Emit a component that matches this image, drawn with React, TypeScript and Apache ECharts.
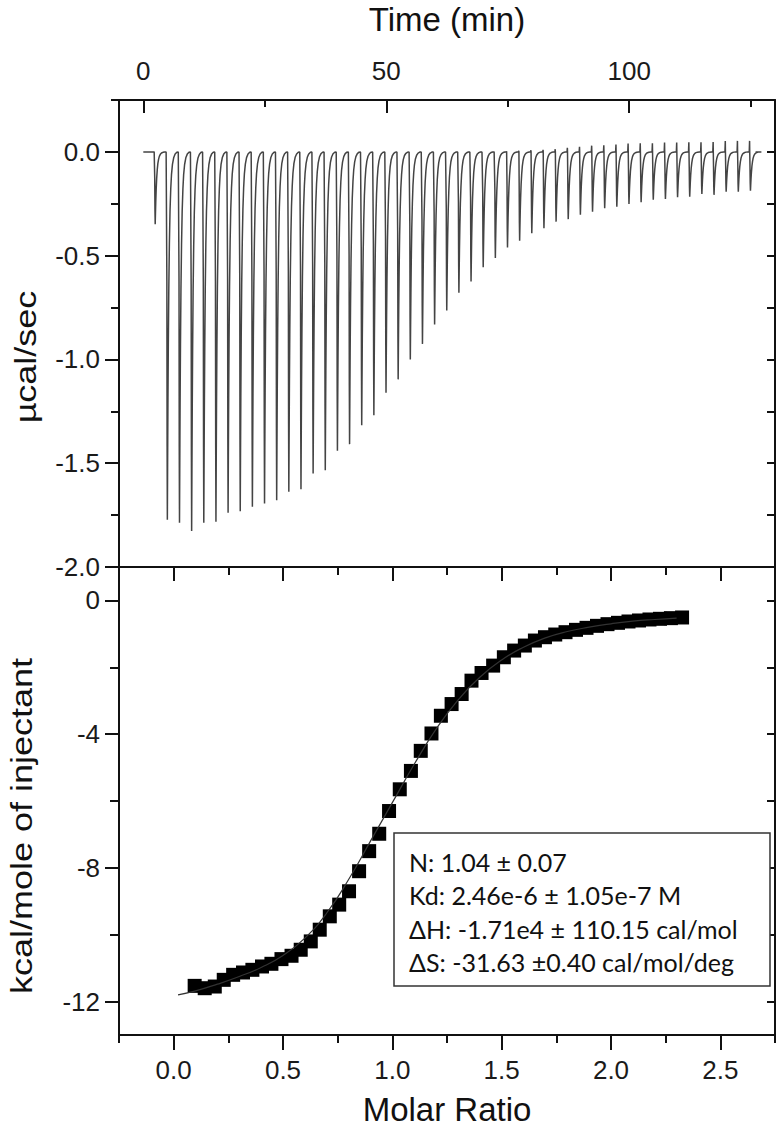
import React, { useEffect, useRef } from "react";
import * as echarts from "echarts";

// ---------- DATA ----------
// Raw thermogram: injection start times (min), peak depths (µcal/sec), small upward artefact heights
const injectionTimes = [
  2.3, 4.8, 7.3, 9.8, 12.3, 14.8, 17.3, 19.8, 22.3, 24.8,
  27.3, 29.8, 32.3, 34.8, 37.3, 39.8, 42.3, 44.8, 47.3, 49.8,
  52.3, 54.8, 57.3, 59.8, 62.3, 64.8, 67.3, 69.8, 72.3, 74.8,
  77.3, 79.8, 82.3, 84.8, 87.3, 89.8, 92.3, 94.8, 97.3, 99.8,
  102.3, 104.8, 107.3, 109.8, 112.3, 114.8, 117.3, 119.8, 122.3, 124.8,
];
const peakDepths = [
  -0.348, -1.772, -1.787, -1.827, -1.787, -1.782, -1.739, -1.731, -1.71, -1.694,
  -1.678, -1.638, -1.625, -1.55, -1.534, -1.44, -1.408, -1.317, -1.269, -1.16,
  -1.096, -1.0, -0.925, -0.832, -0.764, -0.679, -0.625, -0.556, -0.511, -0.461,
  -0.428, -0.392, -0.368, -0.336, -0.324, -0.303, -0.288, -0.272, -0.264, -0.251,
  -0.243, -0.231, -0.227, -0.219, -0.216, -0.203, -0.207, -0.192, -0.192, -0.187,
];
const spikeHeights = [
  0, 0, 0, 0, 0, 0, 0, 0, 0, 0,
  0, 0, 0, 0, 0, 0, 0, 0, 0, 0,
  0, 0, 0, 0, 0, 0, 0, 0, 0, 0.003,
  0.005, 0.008, 0.01, 0.013, 0.02, 0.025, 0.03, 0.032, 0.035, 0.04,
  0.042, 0.042, 0.045, 0.045, 0.046, 0.046, 0.048, 0.052, 0.053, 0.053,
];
// shape of one injection peak: [minutes after injection start, fraction of depth]
const peakShape = [
  [0, 0], [0.05, 0.35], [0.1, 0.8], [0.15, 1], [0.2, 0.86], [0.27, 0.68],
  [0.35, 0.52], [0.45, 0.37], [0.57, 0.25], [0.7, 0.16], [0.85, 0.1],
  [1.0, 0.062], [1.2, 0.034], [1.45, 0.016], [1.75, 0.006], [2.1, 0.001], [2.4, 0],
];
const traceStart = 0;
const traceEnd = 126;

// Integrated heats
const molarRatio = [
  0.096, 0.142, 0.188, 0.229, 0.272, 0.317, 0.36, 0.404, 0.447, 0.493,
  0.539, 0.581, 0.627, 0.668, 0.714, 0.757, 0.802, 0.848, 0.894, 0.94,
  0.985, 1.034, 1.085, 1.13, 1.179, 1.222, 1.271, 1.317, 1.362, 1.408,
  1.461, 1.51, 1.557, 1.606, 1.652, 1.698, 1.745, 1.792, 1.84, 1.888,
  1.936, 1.984, 2.032, 2.08, 2.128, 2.176, 2.224, 2.274, 2.325,
];
const heat = [
  -11.53, -11.6, -11.55, -11.35, -11.2, -11.13, -11.05, -10.95, -10.87, -10.73,
  -10.63, -10.45, -10.2, -9.85, -9.45, -9.1, -8.7, -8.1, -7.5, -6.98,
  -6.3, -5.65, -5.1, -4.5, -3.98, -3.45, -3.1, -2.8, -2.4, -2.17,
  -1.95, -1.7, -1.5, -1.35, -1.2, -1.1, -1.02, -0.95, -0.88, -0.82,
  -0.76, -0.71, -0.67, -0.63, -0.6, -0.57, -0.55, -0.53, -0.51,
];
// Fit curve
const fitX = [0.02, 0.1, 0.2, 0.3, 0.4, 0.5, 0.6, 0.7, 0.8, 0.9, 1.0, 1.1, 1.2, 1.3, 1.4, 1.5, 1.6, 1.7, 1.8, 1.9, 2.0, 2.1, 2.2, 2.3];
const fitY = [-11.8, -11.68, -11.48, -11.25, -10.98, -10.62, -10.1, -9.35, -8.35, -7.2, -6.05, -4.9, -3.85, -2.98, -2.3, -1.78, -1.4, -1.12, -0.93, -0.8, -0.7, -0.62, -0.57, -0.53];

// Ticks / labels
const timeMajor = [0, 50, 100];
const timeMinor = [25, 75, 125];
const ucalMajor = [-2, -1.5, -1, -0.5, 0];
const ucalMinor = [-1.75, -1.25, -0.75, -0.25, 0.25];
const mrMajor = [0, 0.5, 1, 1.5, 2, 2.5];
const mrMinor = [-0.25, 0.25, 0.75, 1.25, 1.75, 2.25, 2.75];
const mrMinorInner = [0.25, 0.75, 1.25, 1.75, 2.25];
const kcalMajor = [-12, -8, -4, 0];
const kcalMinor = [-10, -6, -2];
const kcalAll = [-12, -10, -8, -6, -4, -2, 0];

const statsLines = [
  "N: 1.04 ± 0.07",
  "Kd: 2.46e-6 ± 1.05e-7 M",
  "ΔH: -1.71e4 ± 110.15 cal/mol",
  "ΔS: -31.63 ±0.40 cal/mol/deg",
];

// ---------- CHART ----------
const FONT = "'Liberation Sans', Arial, Helvetica, sans-serif";
const BOX_FONT = "Lato, 'Open Sans', sans-serif";
const AX = "#111";

function buildTrace(): number[][] {
  const pts: number[][] = [[traceStart, 0]];
  injectionTimes.forEach((t0, i) => {
    const d = peakDepths[i];
    const s = spikeHeights[i];
    pts.push([t0 - 0.06, 0]);
    if (s > 0) {
      pts.push([t0 - 0.03, s]);
    }
    peakShape.forEach(([dt, f]) => pts.push([t0 + dt, d * f]));
  });
  pts.push([traceEnd, 0]);
  return pts;
}

function tickAxis(base: any, ticks: number[], len: number, inside: boolean, showLine: boolean, labels?: any) {
  return {
    type: "value",
    ...base,
    axisLine: { show: showLine, onZero: false, lineStyle: { color: AX, width: 2 } },
    axisTick: { show: true, inside, length: len, customValues: ticks, lineStyle: { color: AX, width: 2 } },
    axisLabel: labels
      ? { show: true, color: "#1a1a1a", fontSize: 26, fontFamily: FONT, ...labels }
      : { show: false },
    splitLine: { show: false },
  };
}

export default function App() {
  const ref = useRef<HTMLDivElement>(null);

  useEffect(() => {
    if (!ref.current) return;
    const chart = echarts.init(ref.current, null, { renderer: "svg" });

    const gTop = { gridIndex: 0, min: -5, max: 130 };
    const gTopY = { gridIndex: 0, min: -2, max: 0.25 };
    const gBotX = { gridIndex: 1, min: -0.25, max: 2.75 };
    const gBotY = { gridIndex: 1, min: -13, max: 1 };

    const option: any = {
      animation: false,
      backgroundColor: "#fff",
      grid: [
        { left: 119, right: 3, top: 100, height: 467 },
        { left: 119, right: 3, top: 567, height: 468 },
      ],
      xAxis: [
        tickAxis({ ...gTop, position: "top" }, timeMajor, 13, true, true, {
          customValues: timeMajor,
          margin: 16,
          formatter: (v: number) => String(v),
        }),
        tickAxis({ ...gTop, position: "top" }, timeMinor, 7, true, false),
        tickAxis({ ...gBotX, position: "bottom" }, mrMajor, 15, false, true, {
          customValues: mrMajor,
          margin: 22,
          formatter: (v: number) => v.toFixed(1),
        }),
        tickAxis({ ...gBotX, position: "bottom" }, mrMinor, 8, false, false),
        tickAxis({ ...gBotX, position: "top" }, mrMajor, 14, true, true),
        tickAxis({ ...gBotX, position: "top" }, mrMinorInner, 8, true, false),
      ],
      yAxis: [
        tickAxis({ ...gTopY, position: "left" }, ucalMajor, 14, false, true, {
          customValues: ucalMajor,
          margin: 19,
          formatter: (v: number) => v.toFixed(1),
        }),
        tickAxis({ ...gTopY, position: "left" }, ucalMinor, 8, false, false),
        tickAxis({ ...gTopY, position: "right" }, [...ucalMajor, ...ucalMinor], 8, true, true),
        tickAxis({ ...gBotY, position: "left" }, kcalMajor, 14, false, true, {
          customValues: kcalMajor,
          margin: 19,
          formatter: (v: number) => String(v),
        }),
        tickAxis({ ...gBotY, position: "left" }, kcalMinor, 9, false, false),
        tickAxis({ ...gBotY, position: "right" }, kcalAll, 8, true, true),
      ],
      series: [
        {
          type: "line",
          xAxisIndex: 0,
          yAxisIndex: 0,
          data: buildTrace(),
          showSymbol: false,
          symbol: "none",
          lineStyle: { color: "#444", width: 1.5 },
          silent: true,
        },
        {
          type: "line",
          xAxisIndex: 2,
          yAxisIndex: 3,
          data: fitX.map((x, i) => [x, fitY[i]]),
          smooth: true,
          showSymbol: false,
          symbol: "none",
          lineStyle: { color: "#333", width: 1.2 },
          silent: true,
        },
        {
          type: "scatter",
          xAxisIndex: 2,
          yAxisIndex: 3,
          data: molarRatio.map((x, i) => [x, heat[i]]),
          symbol: "rect",
          symbolSize: 14,
          itemStyle: { color: "#000", opacity: 1 },
          silent: true,
        },
      ],
      graphic: [
        {
          type: "text",
          x: 447,
          y: 19,
          style: { text: "Time (min)", font: `33px ${FONT}`, fill: "#111", textAlign: "center", textVerticalAlign: "middle" },
        },
        {
          type: "text",
          x: 447,
          y: 1109,
          style: { text: "Molar Ratio", font: `33px ${FONT}`, fill: "#111", textAlign: "center", textVerticalAlign: "middle" },
        },
        {
          type: "text",
          x: 26,
          y: 357,
          rotation: Math.PI / 2,
          scaleX: 1.2,
          style: { text: "µcal/sec", font: `30px ${FONT}`, fill: "#111", textAlign: "center", textVerticalAlign: "middle" },
        },
        {
          type: "text",
          x: 22,
          y: 826,
          rotation: Math.PI / 2,
          scaleX: 1.2,
          style: { text: "kcal/mole of injectant", font: `30px ${FONT}`, fill: "#111", textAlign: "center", textVerticalAlign: "middle" },
        },
        {
          type: "rect",
          shape: { x: 394, y: 833, width: 376, height: 153 },
          style: { fill: "#fff", stroke: "#333", lineWidth: 1.5 },
          z: 10,
        },
        ...statsLines.map((t, i) => ({
          type: "text",
          x: 409,
          y: 862 + i * 33.3,
          z: 11,
          style: { text: t, font: `25px ${BOX_FONT}`, fill: "#111", textAlign: "left", textVerticalAlign: "middle" },
        })),
      ],
    };

    chart.setOption(option);
    return () => chart.dispose();
  }, []);

  return (
    <div
      ref={ref}
      style={{ position: "fixed", left: 0, top: 0, width: 778, height: 1135, background: "#fff" }}
    />
  );
}
